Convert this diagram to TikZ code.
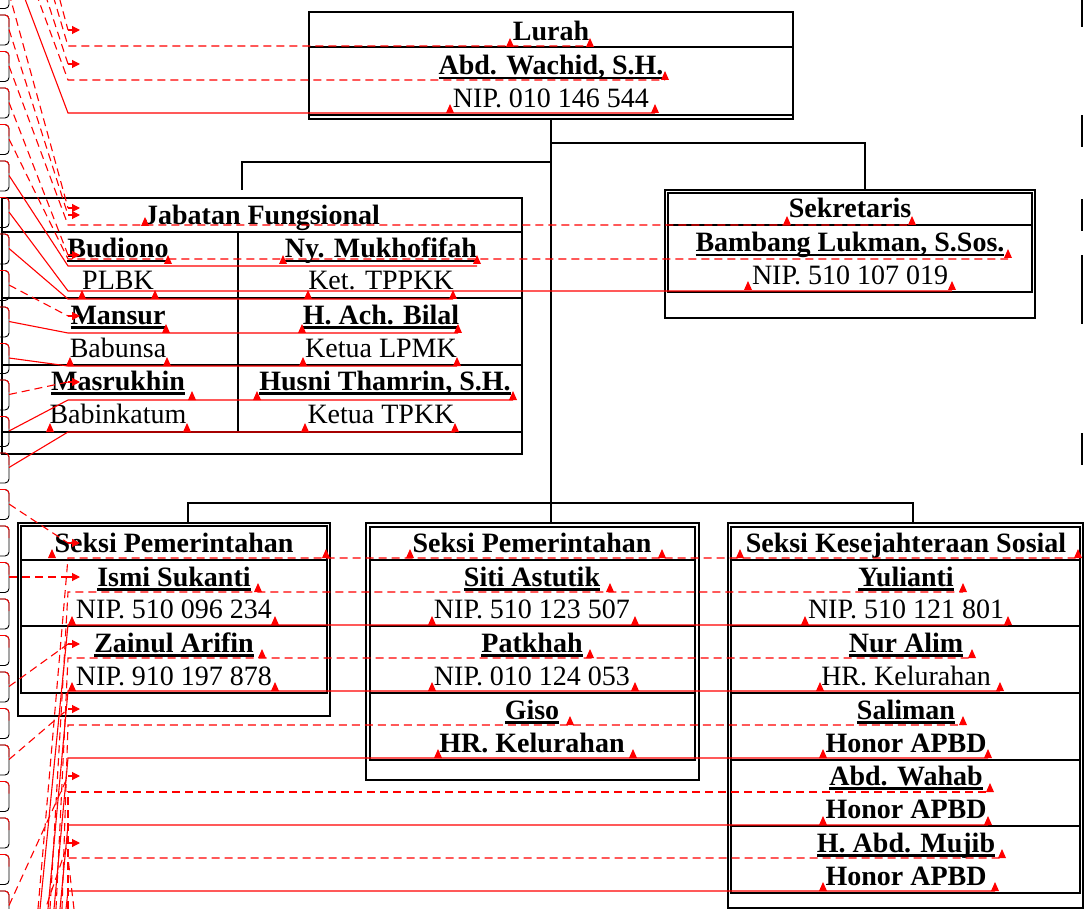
\documentclass[tikz,border=0pt]{standalone}
\usepackage{fontspec}
\setmainfont{Liberation Serif}
\usepackage{tikz}
\definecolor{markup}{RGB}{255,0,0}
\usetikzlibrary{arrows.meta}

\newcommand{\nm}[1]{\setbox0\hbox{#1}\rlap{\rule[-4.5pt]{\wd0}{2.6pt}}\box0}

\begin{document}
\begin{tikzpicture}[x=1pt,y=-1pt,
        box/.style={draw,line width=1.6pt,inner sep=0pt},
        rowline/.style={line width=2.4pt},
        link/.style={line width=1.5pt},
        txt/.style={inner sep=0pt,anchor=base,font=\fontsize{28}{30}\selectfont},
        bld/.style={txt,font=\fontsize{28}{30}\selectfont\bfseries},
        chg/.style={draw=markup,line width=1.1pt},
        chgd/.style={chg,dash pattern=on 8pt off 5pt}]
        \useasboundingbox (0,0) rectangle (1087,909);
        \clip (0,0) rectangle (1087,909);

        \node[box,minimum width=484pt,minimum height=107pt] (lurah) at (551,65.5) {};
        \node[box,minimum width=370pt,minimum height=128pt] (sek) at (850,254) {};
        \node[box,minimum width=520pt,minimum height=256pt] (jab) at (262,326) {};
        \node[box,minimum width=312pt,minimum height=193pt] (seksiKiri) at (174,619.5) {};
        \node[box,minimum width=333pt,minimum height=257pt] (seksiTengah) at (532.5,651.5) {};
        \node[box,minimum width=355pt,minimum height=385pt] (seksiKanan) at (905.5,715.5) {};

        \draw[rowline] (309,47) -- (793,47) (309,115) -- (793,115);
        \draw[rowline] (668,193) rectangle (1032,292) (668,225) -- (1032,225);
        \foreach \y in {232,298,365,432}
            \draw[rowline] (2,\y) -- (522,\y);
        \draw[link] (238,232) -- (238,432);
        \draw[rowline] (21,526) rectangle (327,693);
        \foreach \y in {560,626}
            \draw[rowline] (21,\y) -- (327,\y);
        \draw[rowline] (370,527) rectangle (695,760);
        \foreach \y in {560,626,693}
            \draw[rowline] (370,\y) -- (695,\y);
        \draw[rowline] (731,527) rectangle (1080,893);
        \foreach \y in {560,626,693,760,826}
            \draw[rowline] (731,\y) -- (1080,\y);
        \foreach \a/\b in {0/27,115/147,199/231,255/324,433/465}
            \fill (1080.5,\a) rectangle (1083,\b);

        \coordinate (hubA) at (551,143);
        \coordinate (hubB) at (551,162);
        \coordinate (hubC) at (551,503);
        \coordinate (sekTop) at (865,190);
        \coordinate (jabTop) at (242,190);
        \coordinate (midTop) at (551,523);
        \coordinate (leftTop) at (188,523);
        \coordinate (rightTop) at (913,523);
        \draw[link] (lurah.south) -- (midTop);
        \draw[link] (hubA) -| (sekTop);
        \draw[link] (hubB) -| (jabTop);
        \draw[link] (leftTop) |- (hubC) -| (rightTop);

        \node[bld] (tLurah) at (551,41) {Lurah};
        \node[bld] (tWachid) at (551,75) {\nm{Abd. Wachid, S.H.}};
        \node[txt] (tNipLurah) at (551,108) {NIP. 010 146 544};

        \node[bld] (tSek) at (850,218) {Sekretaris};
        \node[bld] (tBambang) at (850,252) {\nm{Bambang Lukman, S.Sos.}};
        \node[txt] (tNipSek) at (850,285) {NIP. 510 107 019};

        \node[bld] (tJab) at (262,225) {Jabatan Fungsional};
        \node[bld] (tBudiono) at (118,258) {\nm{Budiono}};
        \node[txt] (tPlbk) at (118,290) {PLBK};
        \node[bld] (tMukhofifah) at (381,258) {\nm{Ny. Mukhofifah}};
        \node[txt] (tTppkk) at (381,290) {Ket. TPPKK};
        \node[bld] (tMansur) at (118,324) {\nm{Mansur}};
        \node[txt] (tBabunsa) at (118,357) {Babunsa};
        \node[bld] (tBilal) at (381,324) {\nm{H. Ach. Bilal}};
        \node[txt] (tLpmk) at (381,357) {Ketua LPMK};
        \node[bld] (tMasrukhin) at (118,390) {\nm{Masrukhin}};
        \node[txt] (tBabinkatum) at (118,423) {Babinkatum};
        \node[bld] (tHusni) at (385,390) {\nm{Husni Thamrin, S.H.}};
        \node[txt] (tTpkk) at (381,423) {Ketua TPKK};

        \node[bld] (tKiri) at (174,552) {Seksi Pemerintahan};
        \node[bld] (tIsmi) at (174,586) {\nm{Ismi Sukanti}};
        \node[txt] (tNipIsmi) at (174,618) {NIP. 510 096 234};
        \node[bld] (tZainul) at (174,652) {\nm{Zainul Arifin}};
        \node[txt] (tNipZainul) at (174,685) {NIP. 910 197 878};

        \node[bld] (tTengah) at (532,552) {Seksi Pemerintahan};
        \node[bld] (tSiti) at (532,586) {\nm{Siti Astutik}};
        \node[txt] (tNipSiti) at (532,618) {NIP. 510 123 507};
        \node[bld] (tPatkhah) at (532,652) {\nm{Patkhah}};
        \node[txt] (tNipPatkhah) at (532,685) {NIP. 010 124 053};
        \node[bld] (tGiso) at (532,719) {\nm{Giso}};
        \node[bld] (tHrGiso) at (532,752) {HR. Kelurahan};

        \node[bld] (tKanan) at (906,552) {Seksi Kesejahteraan Sosial};
        \node[bld] (tYulianti) at (906,586) {\nm{Yulianti}};
        \node[txt] (tNipYulianti) at (906,618) {NIP. 510 121 801};
        \node[bld] (tNurAlim) at (906,652) {\nm{Nur Alim}};
        \node[txt] (tHrNurAlim) at (906,685) {HR. Kelurahan};
        \node[bld] (tSaliman) at (906,719) {\nm{Saliman}};
        \node[bld] (tHonorA) at (906,752) {Honor APBD};
        \node[bld] (tWahab) at (906,785) {\nm{Abd. Wahab}};
        \node[bld] (tHonorB) at (906,818) {Honor APBD};
        \node[bld] (tMujib) at (906,852) {\nm{H. Abd. Mujib}};
        \node[bld] (tHonorC) at (906,885) {Honor APBD};

        \foreach \k in {-1,...,24} {
            \draw[line width=0.9pt,rounded corners=4pt] (-3,{15+36.5*\k}) -- (9,{15+36.5*\k}) -- (9,{45+36.5*\k}) -- (-3,{45+36.5*\k});
            \draw[markup,line width=0.9pt,rounded corners=4pt] (-3,{15+36.5*\k}) -- (9,{15+36.5*\k}) -- (9,{27+36.5*\k});
        }

        \foreach \i/\y/\e in {2/46/590,4/80/665,8/225/912,10/259/1008}
            \draw[chgd] (9,{-189.5+36.5*(\i-1)}) -- (68,\y) -- (\e,\y);
        \foreach \b/\y/\e in {38/558/1078,50/592/963,56/658/972,62/725/963,68/792/990,74/858/1002}
            \draw[chgd] (\b,909) -- (68,\y) -- (\e,\y);
        \foreach \i/\y/\e in {5/113/655,11/266/477,12/291/952,13/299/453,15/333/458,16/366/457,18/400/513,19/432/455}
            \draw[chg] (9,{-189.5+36.5*(\i-1)}) -- (68,\y) -- (\e,\y);
        \foreach \b/\y/\e in {40/625/1008,48/691/1000,54/758/988,60/825/988,66/891/995}
            \draw[chg] (\b,909) -- (68,\y) -- (\e,\y);
        \foreach \i/\y in {1/30,3/64,6/208,7/215,9/255,14/316,17/382,20/543,22/577,25/644,27/709,31/776,34/843} {
            \draw[chgd] (9,{-189.5+36.5*(\i-1)}) -- (68,\y);
            \draw[chg,-{Triangle[length=8pt,width=8pt]}] (68,\y) -- (80,\y);
        }

        \foreach \x/\y in {510/47,590/47,665/80,450/113,655/113,787/225,912/225,1008/258,748/290,952/290,
                145/226,168/264,283/264,477/264,82/299,155/299,308/299,453/299,166/333,302/333,458/333,
                70/366,167/366,303/366,457/366,192/400,257/400,513/400,50/432,187/432,305/432,455/432,
                52/558,326/558,410/558,662/558,740/558,1078/558,258/592,610/592,963/592,
                72/625,275/625,432/625,635/625,805/625,1008/625,262/658,590/658,972/658,
                72/691,275/691,432/691,635/691,820/691,1000/691,570/725,963/725,
                438/758,633/758,823/758,988/758,990/792,823/825,988/825,1002/858,823/891,995/891}
            \fill[markup] (\x-4,\y) -- (\x+4,\y) -- (\x,\y-9) -- cycle;
    \end{tikzpicture}
\end{document}
